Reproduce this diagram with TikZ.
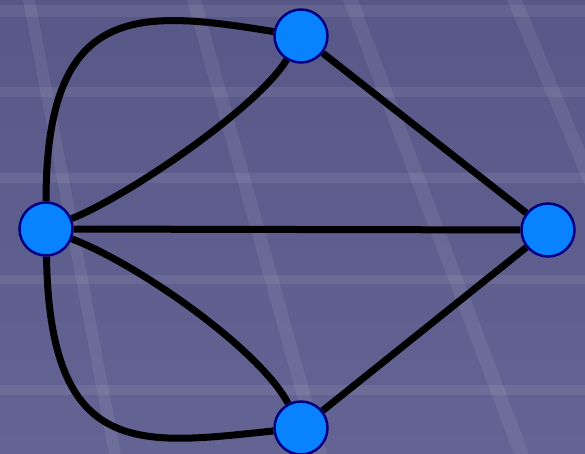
\documentclass[tikz,border=0pt]{standalone}
\pgfdeclarelayer{bg}
\pgfdeclarelayer{edges}
\pgfsetlayers{bg,edges,main}
\definecolor{bgtop}{RGB}{88,88,136}
\definecolor{bgbot}{RGB}{100,100,148}
\definecolor{nodeblue}{RGB}{8,130,255}
\definecolor{nodeline}{RGB}{0,0,128}
\begin{document}
\begin{tikzpicture}[x=1pt,y=-1pt,
  vertex/.style={circle,fill=nodeblue,draw=nodeline,line width=2.5pt,minimum size=53pt,inner sep=0pt},
  bridge/.style={line width=7pt,black},
  band/.style={white,opacity=0.07}]
\useasboundingbox (0,0) rectangle (585,454);
\node[vertex] (T) at (301,36) {};
\node[vertex] (L) at (46,229) {};
\node[vertex] (R) at (548,230) {};
\node[vertex] (B) at (301,428) {};
\begin{pgfonlayer}{edges}
\draw[bridge] (T) -- (R);
\draw[bridge] (B) -- (R);
\draw[bridge] (L) -- (R);
\draw[bridge] (L) .. controls (130,195) and (258,107) .. (T);
\draw[bridge] (L) .. controls (46,0) and (140,10) .. (T);
\draw[bridge] (L) .. controls (140,265) and (260,350) .. (B);
\draw[bridge] (L) .. controls (50,460) and (140,445) .. (B);
\end{pgfonlayer}
\begin{pgfonlayer}{bg}
\begin{scope}
\clip (0,0) rectangle (585,454);
\shade[top color=bgtop,bottom color=bgbot] (0,0) rectangle (585,454);
\fill[band] (0,5) rectangle (585,17);
\fill[band] (0,87) rectangle (585,97);
\fill[band] (0,173) rectangle (585,183);
\fill[band] (0,275) rectangle (585,284);
\fill[band] (0,385) rectangle (585,395);
\fill[band] (23,0) -- (35,0) -- (121,454) -- (109,454) -- cycle;
\fill[band] (187,0) -- (201,0) -- (327,454) -- (313,454) -- cycle;
\fill[band] (343,0) -- (358,0) -- (529,454) -- (514,454) -- cycle;
\fill[band] (507,0) -- (522,0) -- (713,454) -- (698,454) -- cycle;
\end{scope}
\end{pgfonlayer}
\end{tikzpicture}
\end{document}
